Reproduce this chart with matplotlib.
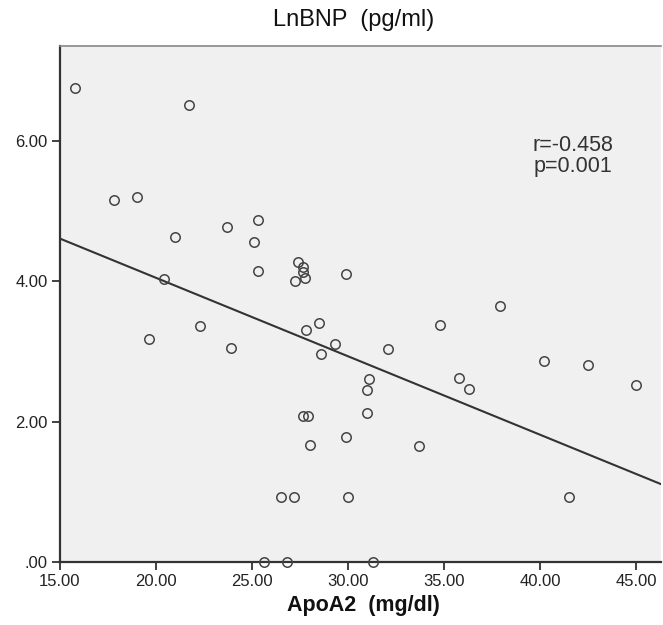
import numpy as np
import matplotlib
matplotlib.use("Agg")
import matplotlib.pyplot as plt

plt.rcParams['font.family'] = ['Liberation Sans', 'DejaVu Sans']

apoa2 = [15.8, 21.7, 17.8, 19.0, 21.0, 23.7, 25.3, 25.1, 25.3, 27.4,
         27.65, 27.65, 27.75, 27.25, 29.9, 20.4, 22.3, 19.65, 23.9, 27.8,
         28.5, 29.3, 28.6, 32.1, 31.1, 31.0, 31.0, 27.65, 27.9, 28.0,
         29.9, 33.7, 26.5, 27.2, 30.0, 25.6, 26.8, 31.3, 37.9, 34.8,
         40.2, 42.5, 45.0, 35.8, 36.3, 41.5]
lnbnp = [6.75, 6.52, 5.16, 5.20, 4.63, 4.77, 4.88, 4.56, 4.15, 4.28,
         4.21, 4.13, 4.05, 4.01, 4.10, 4.04, 3.37, 3.18, 3.05, 3.31,
         3.40, 3.11, 2.97, 3.04, 2.61, 2.45, 2.13, 2.08, 2.08, 1.67,
         1.78, 1.65, 0.93, 0.93, 0.93, 0.0, 0.0, 0.0, 3.65, 3.38,
         2.86, 2.81, 2.53, 2.63, 2.46, 0.93]

xticks = [15, 20, 25, 30, 35, 40, 45]
xtick_labels = ["15.00", "20.00", "25.00", "30.00", "35.00", "40.00", "45.00"]
yticks = [0, 2, 4, 6]
ytick_labels = [".00", "2.00", "4.00", "6.00"]

title = "LnBNP  (pg/ml)"
xlabel = "ApoA2  (mg/dl)"
stats_text = "r=-0.458\np=0.001"

# fit line (intercept at x=15 and slope)
fit_x = [15.0, 46.3]
fit_y = [4.61, 1.11]

fig = plt.figure(figsize=(6.63, 6.25), dpi=100)
ax = fig.add_axes([60/663, 1 - 562/625, 601/663, (562 - 45.7)/625])
ax.set_facecolor('#f0f0f0')

ax.plot(fit_x, fit_y, color='#333333', lw=1.5, zorder=2)
ax.plot(apoa2, lnbnp, linestyle='none', marker='o', markersize=6.8,
        markerfacecolor='none', markeredgecolor='#444444', markeredgewidth=1.1,
        zorder=3, clip_on=False)

ax.set_xlim(15, 46.3)
ax.set_ylim(0, 7.36)
ax.set_xticks(xticks)
ax.set_xticklabels(xtick_labels)
ax.set_yticks(yticks)
ax.set_yticklabels(ytick_labels)
ax.tick_params(axis='both', direction='out', length=6, width=1.3,
               color='#333333', labelsize=12, labelcolor='#222222')
ax.tick_params(axis='x', pad=3)
ax.tick_params(axis='y', pad=3)

for s in ['left', 'bottom']:
    ax.spines[s].set_color('#333333')
    ax.spines[s].set_linewidth(1.6)
ax.spines['top'].set_color('#888888')
ax.spines['top'].set_linewidth(1.2)
ax.spines['right'].set_visible(False)

ax.text(41.72, 6.08, stats_text, ha='center', va='top', fontsize=15.5,
        color='#333333', linespacing=0.95)

fig.text(353.5/663, 1 - 20/625, title, ha='center', va='center', fontsize=17,
         color='#111111')
fig.text(363/663, 1 - 605/625, xlabel, ha='center', va='center', fontsize=15.5,
         fontweight='bold', color='#111111')

fig.savefig('out.png', dpi=100)
